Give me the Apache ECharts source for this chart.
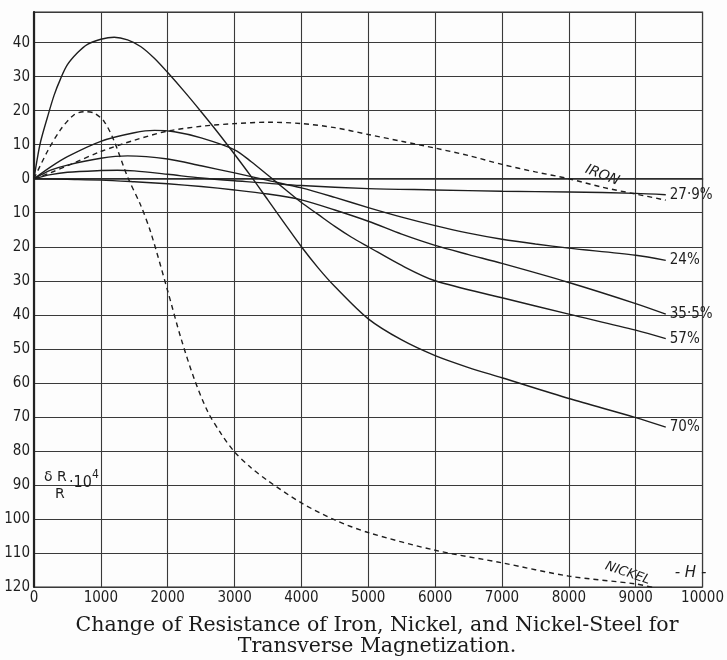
<!DOCTYPE html>
<html>
<head>
<meta charset="utf-8">
<script src="https://cdn.jsdelivr.net/npm/echarts@6/dist/echarts.min.js"></script>
<style>
  html, body { margin: 0; padding: 0; background: #fdfdfd; }
  #chart { width: 727px; height: 660px; }
</style>
</head>
<body>
<div id="chart"></div>
<script>
// Field strength H (x) and change of resistance dR/R * 10^4 (y) for each specimen

// Nickel-steel, 70 % Ni
const h70 = [0, 50, 100, 200, 300, 400, 500, 650, 800, 1000, 1200, 1400, 1600, 1800, 2000, 2250, 2500, 2750, 3000, 3250, 3500, 3750, 4000, 4250, 4500, 5000, 5500, 6000, 6500, 7000, 8000, 9000, 9450];
const r70 = [0, 6, 11, 18, 24.5, 29.5, 33.5, 37, 39.5, 41, 41.6, 40.8, 38.8, 35.4, 31.2, 25.6, 19.7, 13.6, 7.2, 0.6, -6.3, -13.2, -20, -26.2, -31.7, -41.2, -47.4, -52, -55.5, -58.5, -64.6, -70.2, -73];

// Nickel-steel, 57 % Ni
const h57 = [0, 250, 500, 1000, 1500, 1800, 2100, 2500, 3000, 3250, 3500, 3750, 4000, 4250, 4500, 4750, 5000, 5500, 6000, 7000, 8000, 9000, 9450];
const r57 = [0, 3.5, 6.5, 11, 13.5, 14.2, 13.8, 12, 8.5, 5, 1, -3, -7, -10.5, -14, -17.2, -20, -25.5, -30, -35, -39.8, -44.5, -47];

// Nickel-steel, 35.5 % Ni
const h355 = [0, 500, 1000, 1500, 2000, 2500, 3000, 3500, 4000, 4500, 5000, 5500, 6000, 6500, 7000, 8000, 9000, 9450];
const r355 = [0, -0.2, -0.4, -0.9, -1.5, -2.3, -3.3, -4.5, -6.2, -9.2, -12.5, -16.3, -19.6, -22.3, -24.9, -30.5, -36.7, -39.8];

// Nickel-steel, 24 % Ni
const h24 = [0, 250, 500, 1000, 1400, 2000, 2500, 3000, 3500, 4000, 4500, 5000, 5500, 6000, 6500, 7000, 7500, 8000, 9000, 9450];
const r24 = [0, 2.5, 4, 6, 6.7, 5.8, 3.8, 1.7, -0.5, -2.7, -5.5, -8.5, -11.3, -13.8, -16, -17.8, -19.2, -20.4, -22.5, -24];

// Nickel-steel, 27.9 % Ni
const h279 = [0, 250, 500, 1000, 1250, 1500, 2000, 2500, 3000, 4000, 5000, 6000, 7000, 8000, 9000, 9450];
const r279 = [0, 1.2, 1.9, 2.4, 2.5, 2.3, 1.3, 0.2, -0.6, -2, -2.9, -3.3, -3.7, -3.9, -4.3, -4.7];

// Iron (dashed)
const hIron = [0, 250, 500, 1000, 1500, 2000, 2500, 3000, 3500, 4000, 4500, 5000, 5500, 6000, 6500, 7000, 7500, 8000, 8500, 9000, 9450];
const rIron = [0, 1.8, 3.8, 8, 11.3, 14, 15.4, 16.2, 16.6, 16.2, 15, 13, 11, 9, 6.8, 4.2, 2, 0, -2.5, -4.5, -6.3];

// Nickel (dashed)
const hNickel = [0, 200, 400, 600, 750, 900, 1050, 1200, 1400, 1600, 1750, 2000, 2200, 2400, 2600, 2800, 3000, 3250, 3500, 4000, 4500, 5000, 6000, 7000, 8000, 9000, 9300];
const rNickel = [0, 8, 14.5, 18.8, 19.7, 19.3, 16.8, 11, 0.5, -8, -16, -33, -47, -59, -68.5, -75, -80.3, -85, -88.8, -95.3, -100.3, -104, -109.2, -112.9, -116.8, -119.1, -120.3];

// Axis ticks
const xTicks = [0, 1000, 2000, 3000, 4000, 5000, 6000, 7000, 8000, 9000, 10000];
const yTicks = [-120, -110, -100, -90, -80, -70, -60, -50, -40, -30, -20, -10, 0, 10, 20, 30, 40];

const pairs = (xs, ys) => xs.map((x, i) => [x, ys[i]]);

const INK = '#1e1e1e';
const NUM_FONT = "'Liberation Sans Narrow', 'DejaVu Sans Condensed', 'Roboto Condensed', 'DejaVu Sans', sans-serif";
const SERIF = "'DejaVu Serif', 'Liberation Serif', serif";

function solid(name, xs, ys, label) {
  return {
    name, type: 'line', data: pairs(xs, ys), smooth: 0.3, symbol: 'none',
    lineStyle: { color: INK, width: 1.4 },
    endLabel: { show: true, formatter: label, color: INK, fontFamily: NUM_FONT, fontSize: 15, distance: 4 },
    z: 3
  };
}
function dashed(name, xs, ys) {
  return {
    name, type: 'line', data: pairs(xs, ys), smooth: 0.3, symbol: 'none',
    lineStyle: { color: INK, width: 1.4, type: [5, 4] },
    z: 3
  };
}

const chart = echarts.init(document.getElementById('chart'));

chart.setOption({
  backgroundColor: '#fdfdfd',
  animation: false,
  grid: { left: 34, right: 14, top: 12, bottom: 73, show: true, borderColor: '#2a2a2a', borderWidth: 1.2 },
  xAxis: {
    type: 'value', min: 0, max: 10000, interval: 1000,
    axisLine: { show: true, lineStyle: { color: '#2a2a2a', width: 1.5 } },
    axisTick: { show: false },
    splitLine: { show: true, lineStyle: { color: '#3a3a3a', width: 1.1 } },
    axisLabel: {
      color: INK, fontFamily: NUM_FONT, fontSize: 15, margin: 4,
      formatter: v => (xTicks.includes(v) ? String(v) : '')
    }
  },
  yAxis: {
    type: 'value', min: -120, max: 49, interval: 10,
    axisLine: { show: true, lineStyle: { color: '#222', width: 2.2 } },
    axisTick: { show: false },
    splitLine: { show: true, lineStyle: { color: '#3a3a3a', width: 1.1 } },
    axisLabel: {
      color: INK, fontFamily: NUM_FONT, fontSize: 15, margin: 4,
      formatter: v => (yTicks.includes(v) ? String(Math.abs(v)) : '')
    }
  },
  series: [
    solid('70%', h70, r70, '70%'),
    solid('57%', h57, r57, '57%'),
    solid('35.5%', h355, r355, '35·5%'),
    solid('24%', h24, r24, '24%'),
    solid('27.9%', h279, r279, '27·9%'),
    dashed('Iron', hIron, rIron),
    dashed('Nickel', hNickel, rNickel)
  ]
});

// Curve names and axis quantity, placed in data coordinates
const at = (x, y) => chart.convertToPixel({ gridIndex: 0 }, [x, y]);
const ironPos = at(8500, 1.0);
const nickelPos = at(8880, -116);
const hPos = at(9820, -116);
const qPos = at(150, -90);

chart.setOption({
  graphic: [
    {
      type: 'text', x: ironPos[0], y: ironPos[1], rotation: -0.38,
      style: { text: 'IRON', fill: INK, font: "italic 14px 'DejaVu Sans'", align: 'center', verticalAlign: 'middle' }
    },
    {
      type: 'text', x: nickelPos[0], y: nickelPos[1], rotation: -0.33,
      style: { text: 'NICKEL', fill: INK, font: "italic 13px 'DejaVu Sans'", align: 'center', verticalAlign: 'middle' }
    },
    {
      type: 'text', x: hPos[0], y: hPos[1],
      style: { text: '- H -', fill: INK, font: "italic 15px 'DejaVu Sans'", align: 'center', verticalAlign: 'middle' }
    },
    {
      type: 'text', x: qPos[0], y: qPos[1] - 8,
      style: { text: 'δ R', fill: INK, font: "14px 'DejaVu Sans'", align: 'left', verticalAlign: 'middle' }
    },
    {
      type: 'text', x: qPos[0] + 11, y: qPos[1] + 9,
      style: { text: 'R', fill: INK, font: "14px 'DejaVu Sans'", align: 'left', verticalAlign: 'middle' }
    },
    {
      type: 'text', x: qPos[0] + 25, y: qPos[1] - 2,
      style: { text: '·10', fill: INK, font: "16px " + NUM_FONT, align: 'left', verticalAlign: 'middle' }
    },
    {
      type: 'text', x: qPos[0] + 48, y: qPos[1] - 10,
      style: { text: '4', fill: INK, font: "12px " + NUM_FONT, align: 'left', verticalAlign: 'middle' }
    },
    {
      type: 'text', x: 377, y: 626,
      style: { text: 'Change of Resistance of Iron, Nickel, and Nickel-Steel for', fill: '#1a1a1a', font: '20.5px ' + SERIF, align: 'center', verticalAlign: 'middle' }
    },
    {
      type: 'text', x: 377, y: 647,
      style: { text: 'Transverse Magnetization.', fill: '#1a1a1a', font: '20.5px ' + SERIF, align: 'center', verticalAlign: 'middle' }
    }
  ]
});
</script>
</body>
</html>
